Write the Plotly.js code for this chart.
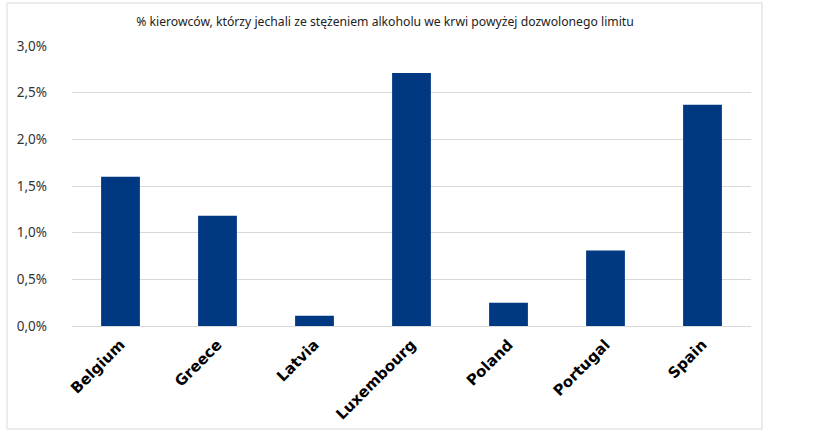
<!DOCTYPE html>
<html>
<head>
<meta charset="utf-8">
<script src="https://cdn.plot.ly/plotly-3.0.1.min.js"></script>
<style>html,body{margin:0;padding:0;background:#fff;}#chart{width:815px;height:433px;}</style>
</head>
<body>
<div id="chart"></div>
<script>
const countries = ["Belgium", "Greece", "Latvia", "Luxembourg", "Poland", "Portugal", "Spain"];
const drunkDrivingPct = [1.60, 1.18, 0.11, 2.71, 0.25, 0.81, 2.37];
const yTickValues = [0, 0.5, 1, 1.5, 2, 2.5, 3];
const yTickLabels = ["0,0%", "0,5%", "1,0%", "1,5%", "2,0%", "2,5%", "3,0%"];
const chartTitle = "% kierowców, którzy jechali ze stężeniem alkoholu we krwi powyżej dozwolonego limitu";

const trace = {
  type: "bar",
  x: countries,
  y: drunkDrivingPct,
  marker: {color: "#003882"},
  hoverinfo: "x+y"
};

const layout = {
  width: 815,
  height: 433,
  margin: {l: 72, r: 64, t: 46, b: 107},
  paper_bgcolor: "#ffffff",
  plot_bgcolor: "#ffffff",
  separators: ", ",
  bargap: 0.6,
  showlegend: false,
  title: {
    text: chartTitle,
    x: 385 / 815,
    xref: "container",
    xanchor: "center",
    y: 1 - 22 / 433,
    yref: "container",
    yanchor: "middle",
    font: {family: "Noto Sans, Open Sans, sans-serif", size: 12.2, color: "#222"}
  },
  xaxis: {
    type: "category",
    tickangle: -45,
    tickfont: {family: "DejaVu Sans, Verdana, sans-serif", size: 15, color: "#000", weight: "bold"},
    showgrid: false,
    showline: false,
    zeroline: false,
    ticks: "",
    ticklabelstandoff: 6
  },
  yaxis: {
    range: [0, 3],
    tickmode: "array",
    tickvals: yTickValues,
    ticktext: yTickLabels,
    showgrid: true,
    gridcolor: "#d9d9d9",
    gridwidth: 1,
    zeroline: true,
    zerolinecolor: "#d9d9d9",
    zerolinewidth: 1,
    showline: false,
    ticks: "",
    ticklabelstandoff: 24,
    tickfont: {family: "Noto Sans, Open Sans, sans-serif", size: 13.5, color: "#333"}
  },
  shapes: [{
    type: "rect",
    xref: "paper", yref: "paper",
    x0: (7 - 72) / 679, x1: (762 - 72) / 679,
    y0: (326 - 429) / 280, y1: (326 - 3) / 280,
    line: {color: "#d9d9d9", width: 1},
    fillcolor: "rgba(0,0,0,0)",
    layer: "below"
  }]
};

Plotly.newPlot("chart", [trace], layout, {displayModeBar: false, staticPlot: true});
</script>
</body>
</html>
